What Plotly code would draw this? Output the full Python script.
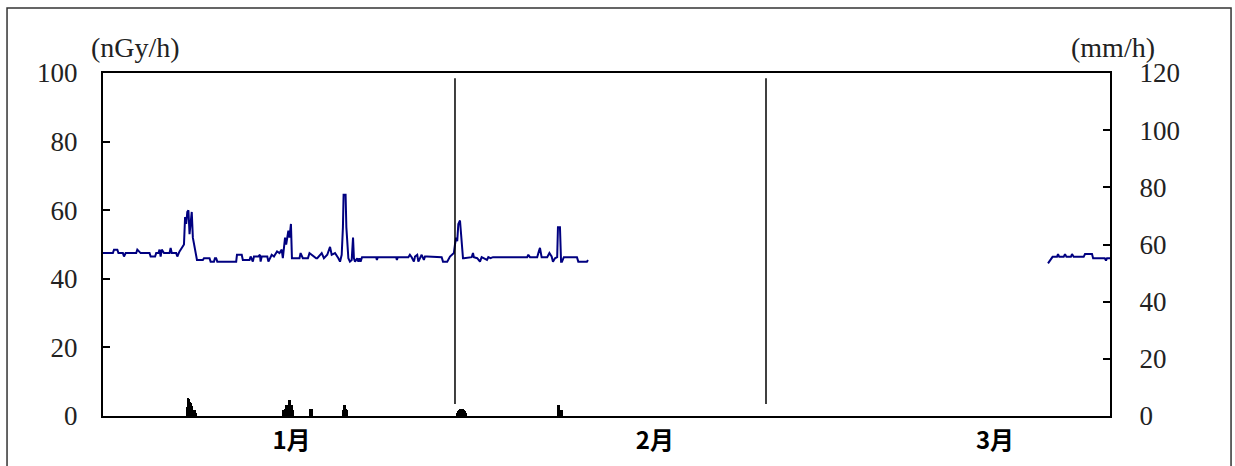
import plotly.graph_objects as go

# ---- Dose rate (nGy/h), x = days from Jan 1 ----
dose_day_1 = [-0.69, 0.2, 0.3, 0.6, 0.7, 1.1, 1.2, 1.35, 1.5, 2.3, 2.4, 2.6, 2.7, 2.9, 3.0, 3.5, 3.6, 4.0, 4.1,
              4.3, 4.4, 4.5, 4.6, 4.8, 5.0, 5.3, 5.4, 5.5, 5.7, 5.9, 6.0, 6.1, 6.2, 6.4, 6.6, 6.7, 6.8, 6.9, 7.0,
              7.1, 7.2, 7.3, 7.4, 7.5, 7.7, 7.77, 8.3, 8.4, 8.9, 9.0, 9.3, 9.39, 9.5, 9.6, 10.6, 10.7, 11.3,
              11.37, 11.8, 11.9, 12.5, 12.6, 12.8, 12.9, 13.3, 13.44, 13.5, 13.6, 14.1, 14.2, 14.5, 14.7, 14.98,
              15.2, 15.4, 15.5, 15.7, 15.8, 15.88, 16.0, 16.1, 16.23, 16.32, 16.5, 17.0, 17.1, 17.3, 17.76,
              17.9, 18.5, 18.6, 19.0, 19.2, 19.5, 19.75, 19.9, 20.2, 20.5, 20.65, 20.8, 20.91, 20.97, 21.15,
              21.22, 21.4, 21.54, 21.7, 21.82, 21.9, 22.0, 22.2, 22.3, 22.4, 22.5, 22.63, 23.9, 23.97, 24.05,
              25.7, 25.77, 25.85, 26.8, 26.94, 27.1, 27.3, 27.4, 27.6, 27.7, 27.9, 28.0, 28.2, 28.3, 28.48,
              29.8, 29.92, 30.3, 30.55, 30.7, 30.9, 31.0, 31.1, 31.2, 31.3, 31.45, 31.55, 31.63, 31.72, 31.8,
              32.5, 32.62, 32.7, 33.0, 33.25, 33.4, 33.6, 33.88, 34.0, 34.2, 34.42, 34.6, 37.5, 37.6, 37.75,
              37.9, 38.4, 38.55, 38.65, 38.8, 39.3, 39.5, 39.7, 39.82, 40.0, 40.2, 40.27, 40.45, 40.55, 40.63,
              40.8, 41.08, 41.98, 42.1, 42.88, 42.97]
dose_val_1 = [47.5, 47.5, 48.5, 48.5, 47.5, 47.5, 46.5, 47.5, 47.5, 47.5, 48.5, 48.0, 47.5, 47.5, 47.5, 47.5, 46.5, 46.5, 47.5,
              47.5, 48.5, 46.5, 48.5, 47.5, 47.5, 47.5, 49.0, 47.5, 47.5, 47.5, 46.5, 47.5, 48.0, 49.0, 50.0, 58.0, 56.0, 59.5, 60.0,
              53.0, 57.0, 59.5, 52.0, 50.0, 46.0, 45.5, 45.5, 46.0, 46.0, 45.0, 45.0, 46.0, 46.0, 45.0, 45.0, 45.0, 45.0,
              47.0, 47.0, 45.5, 45.5, 46.5, 45.0, 46.5, 46.5, 47.0, 45.0, 46.5, 46.5, 45.0, 47.0, 46.5, 48.0,
              47.5, 48.5, 46.0, 52.0, 50.0, 52.0, 54.0, 52.0, 56.0, 46.0, 46.0, 46.0, 47.5, 46.0, 46.0,
              47.5, 46.0, 46.0, 47.5, 46.0, 47.0, 49.3, 47.0, 47.5, 46.0, 45.0, 47.0, 55.0, 64.5, 64.5,
              55.0, 46.0, 45.0, 45.5, 52.0, 46.0, 45.0, 46.0, 45.0, 46.0, 45.0, 46.3, 46.3, 45.5, 46.3,
              46.3, 45.5, 46.3, 46.3, 47.0, 46.3, 45.0, 46.5, 47.0, 45.0, 46.5, 47.0, 45.5, 46.5, 46.5,
              46.3, 45.0, 45.0, 46.5, 47.0, 47.5, 50.0, 52.0, 51.0, 56.0, 57.0, 52.0, 50.0, 46.0, 46.0,
              46.3, 47.5, 46.3, 46.0, 45.0, 46.3, 46.0, 45.5, 46.3, 46.0, 46.3, 46.3, 46.3, 47.0, 46.3,
              46.3, 46.3, 48.0, 49.0, 46.3, 46.3, 47.5, 46.5, 45.0, 46.0, 46.3, 55.0, 55.0, 45.0, 45.0,
              46.3, 46.3, 46.3, 45.0, 45.0, 45.5]

dose_day_2 = [84.39, 84.57, 84.8, 85.02, 85.2, 85.29, 85.4, 85.8, 85.92, 86.05, 86.45, 86.55, 86.7, 87.6, 87.72, 88.35,
              88.45, 89.5, 89.61, 89.7, 89.97]
dose_val_2 = [44.5, 45.5, 46.4, 46.4, 46.4, 47.2, 46.4, 46.4, 47.2, 46.4, 46.4, 47.2, 46.4, 46.4, 47.2, 47.2,
              46.0, 46.0, 45.3, 46.0, 46.0]

# ---- Precipitation (mm/h) ----
precip_day = [6.87, 6.96, 7.05, 7.14, 7.23, 7.32, 7.41, 7.50, 7.59, 7.68,
              15.51, 15.60, 15.69, 15.78, 15.87, 15.96, 16.05, 16.14, 16.23, 16.32, 16.41,
              17.94, 18.03, 18.12,
              20.91, 21.00, 21.09, 21.18, 21.27,
              31.18, 31.27, 31.36, 31.45, 31.54, 31.63, 31.72, 31.81, 31.90, 31.99,
              40.27, 40.36, 40.45, 40.54, 40.63]
precip_mm = [3.0, 6.3, 6.0, 4.8, 4.5, 3.5, 2.0, 2.0, 2.0, 1.0,
             2.0, 2.0, 2.5, 3.8, 4.0, 4.0, 5.6, 5.6, 4.0, 3.8, 2.0,
             2.5, 2.5, 2.5,
             2.0, 3.8, 3.8, 2.5, 2.0,
             1.0, 1.8, 2.2, 2.4, 2.5, 2.5, 2.4, 2.2, 1.8, 1.0,
             3.8, 3.8, 2.0, 2.0, 2.0]

month_labels = ["1月", "2月", "3月"]
month_label_pos = [16.28, 49.0, 79.62]
month_boundaries = [31.0, 59.0]

left_ticks = [0, 20, 40, 60, 80, 100]
right_ticks = [0, 20, 40, 60, 80, 100, 120]

x_line = dose_day_1 + [None] + dose_day_2
y_line = dose_val_1 + [None] + dose_val_2

SERIF = "Liberation Serif"
fig = go.Figure()
fig.add_trace(go.Bar(x=precip_day, y=precip_mm, yaxis="y2", width=0.095,
                     marker=dict(color="black", line=dict(width=0)), showlegend=False))
fig.add_trace(go.Scatter(x=x_line, y=y_line, mode="lines", connectgaps=False,
                         line=dict(color="#000080", width=2), showlegend=False))

for b in month_boundaries:
    fig.add_shape(type="line", xref="x", yref="y", x0=b, x1=b, y0=3.5, y1=98.5,
                  line=dict(color="black", width=1.5))

# outer frame
fig.add_shape(type="rect", xref="paper", yref="paper", x0=-0.0953, x1=1.1202, y0=-0.3, y1=1.1895,
              line=dict(color="#333333", width=1.5), layer="below")

fig.add_annotation(xref="paper", yref="paper", x=0.0318, y=1.075, text="(nGy/h)", showarrow=False,
                   xanchor="center", yanchor="middle", font=dict(family=SERIF, size=28, color="#222"))
fig.add_annotation(xref="paper", yref="paper", x=1.003, y=1.075, text="(mm/h)", showarrow=False,
                   xanchor="center", yanchor="middle", font=dict(family=SERIF, size=28, color="#222"))

fig.update_layout(
    width=1235, height=466,
    margin=dict(l=103, r=125, t=73, b=50, autoexpand=False),
    plot_bgcolor="white", paper_bgcolor="white",
    bargap=0,
    xaxis=dict(range=[-0.69, 89.97], showgrid=False, zeroline=False, showline=True, linecolor="black",
               linewidth=2, mirror=True, ticks="", tickvals=month_label_pos, ticktext=month_labels,
               tickfont=dict(family="Noto Sans CJK JP", size=24, color="black", weight="bold"),
               ticklabelstandoff=2, automargin=False),
    yaxis=dict(range=[0, 100], tickvals=left_ticks, showgrid=False, zeroline=False, showline=True,
               linecolor="black", linewidth=2, ticks="inside", ticklen=7, tickwidth=1.5, tickcolor="black",
               tickfont=dict(family=SERIF, size=27, color="#222"), ticklabelstandoff=18, automargin=False),
    yaxis2=dict(range=[0, 120], tickvals=right_ticks, overlaying="y", side="right", showgrid=False,
                zeroline=False, showline=True, linecolor="black", linewidth=2, ticks="inside", ticklen=7,
                tickwidth=1.5, tickcolor="black", tickfont=dict(family=SERIF, size=27, color="#222"),
                ticklabelstandoff=22, automargin=False),
)

fig.write_html("out.html", config={"displayModeBar": False},
               post_script="document.body.style.margin='0';document.body.style.overflow='hidden';")
